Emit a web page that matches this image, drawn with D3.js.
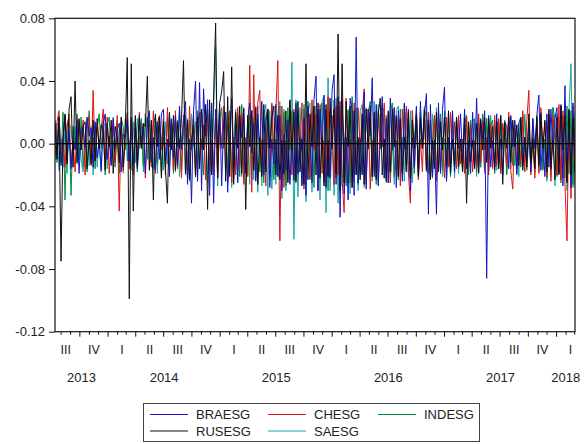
<!DOCTYPE html>
<html><head><meta charset="utf-8">
<script src="https://cdn.jsdelivr.net/npm/d3@7"></script>
<style>
body{margin:0;background:#fff;}
text{font-family:"Liberation Sans",Arial,sans-serif;fill:#222;}
</style>
</head><body>
<svg id="c" width="584" height="444"></svg>
<script>
// ---------------- data ----------------
const seriesNames = ["BRAESG","CHESG","INDESG","RUSESG","SAESG"];
const quarterLabels = ["I","II","III","IV"];
const yearLabels = ["2013","2014","2015","2016","2017","2018"];
const yTickValues = [-0.12,-0.08,-0.04,0.00,0.04,0.08];
const firstDate = "2013-07-12";
const lastDate = "2018-03-02";

const braesg = [
.012,-.008,.016,-.014,.003,.018,-.011,.009,-.016,.002,-.004,.015,-.019,.008,.011,-.003,.017,.005,.010,-.015,
.014,-.009,.002,-.017,.012,.019,-.010,.005,-.014,.016,-.003,.009,.013,-.018,.006,.004,.015,-.011,.017,-.013,
.010,-.016,.018,-.002,.012,-.019,.015,.021,-.012,.004,-.017,.014,-.010,.019,.022,-.015,.003,-.021,.016,-.009,
.018,-.014,.024,-.004,.015,.027,-.026,.003,-.038,.021,.040,-.024,.039,-.030,.035,.005,.028,-.033,.026,-.038,
.022,-.003,.025,-.027,.014,.020,-.031,.002,.029,-.022,.012,-.025,.018,.004,.023,-.019,.016,.026,-.006,.013,
-.024,.019,-.004,.027,-.020,.014,.022,-.028,.003,-.013,.025,-.021,.018,-.030,.006,-.017,.015,-.026,.002,-.023,
.026,-.019,.004,-.027,.016,-.033,.024,.003,-.025,.028,.043,-.030,.022,-.005,.031,-.028,.002,-.022,.034,.044,
-.026,.030,-.047,.028,-.032,.004,-.036,.029,.021,-.033,.068,-.025,.003,-.020,.033,-.029,.022,.005,.042,-.021,
.025,-.027,.003,.030,-.022,.016,-.025,.029,-.004,.023,-.028,.021,.002,-.024,.026,-.018,.022,-.030,.004,-.015,
.024,-.020,.027,-.003,.018,.032,-.045,.025,-.021,.002,-.045,.026,-.019,.022,.036,-.024,.004,-.016,.021,-.018,
.015,-.003,.019,-.012,.022,-.016,.002,-.019,.020,-.014,.029,-.018,.016,.003,.021,-.086,.018,-.015,.002,-.017,
.019,-.013,.003,-.020,.014,.011,-.016,.018,-.002,.015,-.019,.013,.017,-.014,.004,-.011,.014,-.018,.016,-.003,
.018,.031,-.017,.004,-.021,.019,-.015,.022,-.003,.016,.023,-.020,.025,-.027,.037,-.024,.021,-.028,.026,-.019
];
const chesg = [
-.009,.014,.021,-.012,.003,-.015,.010,.019,-.013,.002,-.018,.016,.012,-.004,.015,-.020,.011,.018,-.014,.034,
-.011,.013,-.003,.009,.022,-.014,.017,-.019,.002,.015,-.012,.018,-.043,.014,-.017,.004,.019,-.016,.012,-.020,
.016,-.011,.020,-.003,.013,-.022,.017,.002,-.015,.021,-.019,.012,.018,-.004,.016,-.020,.023,-.002,.015,-.017,
.021,-.016,.003,-.022,.018,.011,-.019,.024,-.004,.017,-.021,.014,.020,-.003,.012,-.023,.019,-.014,.002,-.020,
.018,-.022,.015,-.003,.024,-.019,.013,.021,-.025,.004,-.020,.023,-.015,.019,-.026,.002,-.021,.050,-.031,.044,
-.022,.026,.034,-.019,.003,-.027,.018,-.021,.025,-.004,.020,.053,-.062,.024,-.028,.002,-.023,.027,-.020,.022,
-.025,.021,-.003,.026,-.029,.017,.023,-.022,.028,-.004,.019,-.030,.025,-.019,.002,-.027,.030,-.021,.018,-.026,
.024,-.020,.027,-.023,-.044,.029,-.025,.003,-.028,.026,-.019,.023,-.004,.020,.035,-.026,.022,-.029,.002,-.018,
.021,-.024,.019,-.002,.026,-.022,.018,-.025,.004,.023,-.019,.017,-.027,.022,-.003,.024,-.018,-.038,.021,-.016,
.019,-.023,.003,-.018,.022,-.017,.020,-.021,.002,.018,-.024,.021,-.016,.004,-.022,.017,-.015,.020,-.003,.014,
-.016,.018,-.013,.003,-.019,.017,-.014,.012,-.018,.002,-.015,.019,-.012,.014,-.017,.004,-.020,.013,-.016,.018,
-.014,.016,-.019,.013,.003,-.015,.020,-.017,-.029,.014,-.016,.002,-.013,.021,-.018,.015,.034,-.020,.004,-.022,
.016,-.019,.023,-.003,.014,-.021,.019,-.024,.018,.002,-.020,.025,-.023,.021,-.026,-.062,.020,-.035,.024,-.027
];
const indesg = [
.015,-.012,.018,-.009,.020,-.036,.013,.016,-.033,.011,-.003,.019,-.010,.017,-.015,.002,-.018,.021,-.011,.004,
-.016,.010,.019,-.003,.015,-.020,.012,.017,-.011,.002,-.015,.013,-.019,.016,.011,-.004,.020,-.012,.015,-.017,
.013,-.018,.002,.016,-.014,.019,-.010,.015,-.003,.012,.018,-.013,.016,-.020,.004,-.011,.017,-.015,.012,-.019,
.016,-.002,.020,-.017,.012,.018,-.022,.015,-.004,.019,-.016,.021,-.013,.003,-.020,.014,.022,-.018,.016,-.015,
.019,-.021,.015,.023,-.003,.020,-.024,.016,-.019,.002,-.015,.018,-.021,.025,-.016,.004,-.020,.019,-.023,.017,
-.020,.024,-.018,.002,-.025,.017,.022,-.019,.026,-.023,.003,-.021,.024,-.017,.020,-.027,.023,-.004,.021,-.024,
.025,-.020,.003,-.026,.022,-.019,.027,-.023,.020,-.028,.024,-.002,.019,.026,-.025,.022,-.030,.021,-.004,.028,
-.022,.026,-.029,.020,.003,-.027,.021,-.025,.030,-.020,.023,-.026,.002,-.019,.025,-.023,.020,.027,-.021,.004,
-.026,.021,-.003,.024,-.022,.018,-.025,.020,.026,-.021,.002,-.023,.022,-.018,.025,-.004,.016,-.024,.021,-.019,
.022,-.018,.020,-.003,.017,.021,-.019,.015,-.022,.018,-.020,.004,.019,-.017,.021,-.015,.002,-.021,.014,-.016,
.017,-.014,.003,-.016,.013,.018,-.020,.015,-.002,.016,-.018,.014,-.015,.019,-.004,.016,-.017,.012,.015,-.019,
.014,-.016,.018,-.003,.015,-.019,.012,.017,-.014,.002,-.020,.013,-.015,.018,.014,-.017,.004,-.013,.016,-.015,
.018,-.014,.020,-.017,.003,-.022,.019,-.018,.023,.016,-.021,.002,-.025,.018,-.022,.024,-.019,.021,-.026,.017
];
const rusesg = [
.014,-.010,.017,-.075,.003,.019,-.013,.022,.030,-.015,.040,-.012,.016,-.004,.011,.014,-.016,.002,-.013,.015,
-.011,.016,-.003,.012,.009,-.017,.013,-.002,.015,-.019,.011,.004,-.012,.017,-.015,.010,.055,-.099,.051,-.043,
.018,-.014,.016,-.003,.013,.011,.043,-.017,.015,-.036,.019,-.002,.017,-.022,.014,-.016,-.038,.020,-.004,.018,
-.017,.014,-.003,.016,.053,-.019,.015,-.023,.002,.012,-.021,.017,-.016,.022,-.004,.025,-.042,.028,-.020,.031,
.077,-.022,.026,.033,.046,-.024,.030,-.021,.049,-.026,.020,-.003,.024,-.019,.022,-.042,.018,-.002,.021,-.017,
.023,-.026,.004,-.021,.025,-.018,.022,-.003,.017,.024,-.020,.018,-.023,.002,-.019,.021,-.025,.028,-.004,.020,
-.024,.027,-.018,.003,-.026,.051,-.023,.019,-.002,.024,-.020,.026,-.022,.004,-.027,.025,-.021,.029,-.003,.022,
-.019,.070,-.030,.051,-.025,.027,-.002,.024,-.028,.021,-.020,.004,-.023,.019,-.026,.022,-.003,.024,-.021,.020,
-.023,.019,.029,-.020,.003,-.024,.021,-.018,.022,-.002,.018,-.021,.016,-.019,.004,-.017,.020,-.022,.015,-.003,
.018,-.021,.016,-.003,.022,-.017,.015,-.023,.002,-.016,.020,-.018,.014,-.004,.017,-.015,.021,-.019,.003,-.014,
.017,-.015,.003,-.018,.016,-.038,.014,-.012,.002,-.016,.013,-.019,.015,-.004,.017,-.012,.016,-.003,.011,-.015,
.014,-.016,.018,-.026,.013,-.003,.017,-.012,.015,-.002,.012,-.014,.016,-.017,.004,-.015,.019,-.013,.003,-.016,
.017,-.014,.019,-.003,.015,-.018,.022,-.016,.002,-.023,.017,-.019,.024,-.004,.018,-.025,.022,-.020,.016,-.018
];
const saesg = [
-.011,.013,-.017,.003,-.015,.012,-.019,.014,.009,-.002,.011,-.013,.015,-.010,-.018,.004,.016,-.014,.011,-.020,
.013,-.015,.002,-.018,.014,.011,-.016,.003,-.013,.017,-.010,.015,-.004,.012,-.019,.016,-.011,.002,-.017,.014,
-.012,.016,-.003,.013,-.018,.011,.017,-.014,.002,-.016,.015,-.019,.013,.004,-.017,.014,-.013,.018,-.003,.012,
-.018,.015,-.021,.003,.013,-.020,.016,-.024,.019,-.002,.014,-.022,.018,.021,-.004,.016,-.025,.020,-.018,.022,
.062,-.027,.019,-.003,.021,.017,-.025,.020,-.028,.002,.022,-.024,.018,-.021,.004,-.019,.017,-.026,.021,-.023,
.024,-.031,.003,-.027,.018,.025,-.033,.021,-.029,.004,-.026,.019,.027,-.035,.022,-.030,.002,-.024,.052,-.061,
.028,-.034,.023,-.003,.025,-.037,.021,.026,-.031,.024,-.004,.022,-.036,.027,.030,-.044,.042,-.030,.002,-.033,
.029,-.038,.024,-.027,.003,-.025,.022,-.032,.027,-.024,.002,-.030,.021,.025,-.028,.023,-.004,.020,-.024,.027,
-.022,.025,-.003,.019,.023,-.025,.020,-.023,.002,-.026,.021,.024,-.020,.004,-.024,.022,-.019,.021,-.025,.003,
.020,-.023,.017,-.002,.024,-.018,.016,-.022,.019,-.004,.023,-.017,.015,-.021,.003,-.024,.020,-.016,.019,-.022,
.016,-.019,.003,-.017,.020,-.015,.013,-.002,.016,.014,-.021,.017,-.015,.004,-.019,.016,-.014,.018,-.003,.015,
-.017,.014,-.019,.002,.013,-.020,.015,-.016,.003,-.014,.012,-.021,.017,-.004,.019,-.013,.016,-.018,.002,-.019,
.015,-.018,.020,-.016,.003,-.024,.018,-.021,.023,-.027,.019,-.002,.024,-.022,.026,-.030,.021,.051,-.028,.020
];
const seriesValues = [braesg, chesg, indesg, rusesg, saesg];
const seriesColors = ["#1414c8","#e01414","#008a3c","#111111","#18a6a6"];
const drawOrder = [4, 2, 1, 0, 3];

// ---------------- chart ----------------
const svg = d3.select("#c");
const L = 55, R = 575, T = 18.3, B = 331.7;
const parse = d3.utcParse("%Y-%m-%d");
const d0 = parse(firstDate), d1 = parse(lastDate);
const x = d3.scaleUtc().domain([d0, d1]).range([L, R]);
const y = d3.scaleLinear().domain([-0.12, 0.08]).range([B, T]);

svg.append("defs").append("clipPath").attr("id","clip")
  .append("rect").attr("x",L).attr("y",T).attr("width",R-L).attr("height",B-T);

const lineG = svg.append("g").attr("clip-path","url(#clip)");
drawOrder.forEach(k => {
  const vals = seriesValues[k];
  const n = vals.length;
  const dateAt = i => new Date(+d0 + i * (d1 - d0) / (n - 1));
  const line = d3.line().x((d, i) => x(dateAt(i))).y(d => y(d));
  lineG.append("path").datum(vals)
    .attr("d", line).attr("fill","none")
    .attr("stroke", seriesColors[k]).attr("stroke-width", 1)
    .attr("stroke-linejoin","miter");
});

// zero line
svg.append("line").attr("x1",L).attr("x2",R).attr("y1",y(0)).attr("y2",y(0))
  .attr("stroke","#000").attr("stroke-width",1.3);

// frame
svg.append("rect").attr("x",L).attr("y",T).attr("width",R-L).attr("height",B-T)
  .attr("fill","none").attr("stroke","#111").attr("stroke-width",1.2);

// y axis
const yAxis = d3.axisLeft(y).tickValues(yTickValues).tickSize(6).tickPadding(4)
  .tickFormat(d => d.toFixed(2).replace("−","-"));
const yg = svg.append("g").attr("transform",`translate(${L},0)`).call(yAxis);
yg.select(".domain").remove();
yg.selectAll("line").attr("stroke","#111");
yg.selectAll("text").style("font-size","13px").attr("fill","#222");

// x axis: monthly minor, quarterly major ticks
const months = d3.utcMonth.range(d3.utcMonth.ceil(d0), d1);
const xg = svg.append("g");
months.forEach(m => {
  const major = m.getUTCMonth() % 3 === 0;
  xg.append("line").attr("x1",x(m)).attr("x2",x(m))
    .attr("y1",B).attr("y2",B + (major ? 5 : 3))
    .attr("stroke","#111").attr("stroke-width",1);
});
// quarter labels at quarter midpoints
const qStarts = d3.utcMonth.every(3).range(d3.utcMonth.every(3).floor(d0), d1);
qStarts.forEach(q => {
  const qEnd = d3.utcMonth.offset(q, 3);
  const mid = new Date((+q + +qEnd) / 2);
  xg.append("text").attr("x", x(mid)).attr("y", 354)
    .attr("text-anchor","middle").style("font-size","12.5px")
    .text(quarterLabels[Math.floor(q.getUTCMonth() / 3)]);
});
// year labels at center of visible part of each year
yearLabels.forEach(yl => {
  const ys = parse(yl + "-01-01"), ye = parse((+yl + 1) + "-01-01");
  const a = Math.max(+ys, +d0), b = Math.min(+ye, +d1);
  xg.append("text").attr("x", x(new Date((a + b) / 2))).attr("y", 382)
    .attr("text-anchor","middle").style("font-size","13px").text(yl);
});

// legend
const lg = svg.append("g");
lg.append("rect").attr("x",143.5).attr("y",403.5).attr("width",336).attr("height",38)
  .attr("fill","#fff").attr("stroke","#444").attr("stroke-width",1);
const legX = [150, 268, 378];
seriesNames.forEach((nm, k) => {
  const col = k % 3, row = Math.floor(k / 3);
  const lx = legX[col], ly = 414.5 + row * 16.5;
  lg.append("line").attr("x1",lx).attr("x2",lx + 38).attr("y1",ly).attr("y2",ly)
    .attr("stroke",seriesColors[k]).attr("stroke-width",1);
  lg.append("text").attr("x",lx + 46).attr("y",ly + 4.5)
    .style("font-size","13px").text(nm);
});
</script>
</body></html>
